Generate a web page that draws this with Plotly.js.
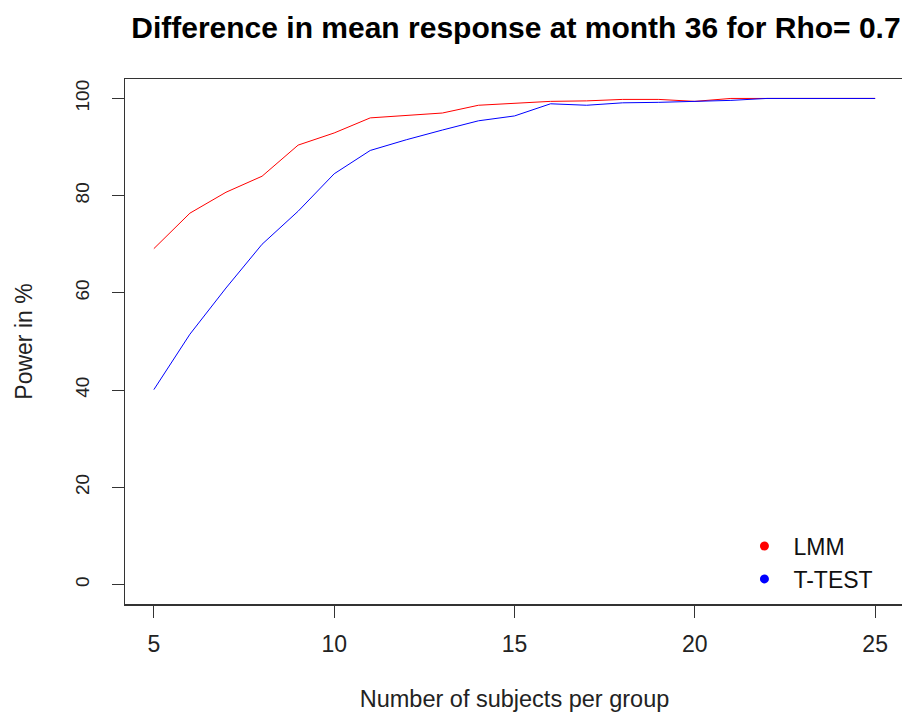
<!DOCTYPE html>
<html>
<head>
<meta charset="utf-8">
<script src="https://cdn.plot.ly/plotly-3.0.1.min.js"></script>
<style>html,body{margin:0;padding:0;overflow:hidden;background:#fff;}#chart{width:906px;height:712px;}</style>
</head>
<body>
<div id="chart"></div>
<script>
const subjects = [5,6,7,8,9,10,11,12,13,14,15,16,17,18,19,20,21,22,23,24,25];
const lmmPower = [69.1,76.4,80.7,84.0,90.4,92.9,96.0,96.5,97.0,98.6,99.0,99.4,99.5,99.8,99.8,99.4,100,100,100,100,100];
const ttestPower = [40.1,51.5,61.0,70.0,76.8,84.5,89.3,91.5,93.5,95.4,96.4,98.9,98.6,99.1,99.2,99.4,99.6,100,100,100,100];
const xTicks = [5,10,15,20,25];
const yTicks = [0,20,40,60,80,100];
const seriesNames = ["LMM","T-TEST"];

const FONT = '"Liberation Sans", Arial, sans-serif';
const traces = [
  {x: subjects, y: lmmPower, mode: 'lines', line: {color: 'red', width: 1}, showlegend: false, hoverinfo: 'skip'},
  {x: subjects, y: ttestPower, mode: 'lines', line: {color: 'blue', width: 1}, showlegend: false, hoverinfo: 'skip'},
  {x: [null], y: [null], mode: 'markers', name: seriesNames[0], marker: {color: 'red', size: 9}},
  {x: [null], y: [null], mode: 'markers', name: seriesNames[1], marker: {color: 'blue', size: 9}}
];
const axisCommon = {
  showgrid: false, zeroline: false, showline: true, mirror: true,
  linecolor: '#333', linewidth: 1.5,
  ticks: 'outside', ticklen: 12, tickwidth: 1, tickcolor: '#333',
  automargin: true
};
const layout = {
  width: 906, height: 712,
  margin: {l: 125, r: 0, t: 79, b: 108},
  paper_bgcolor: '#fff', plot_bgcolor: '#fff',
  title: {text: 'Difference in mean response at month 36 for Rho= 0.7', font: {family: FONT, size: 30, weight: 'bold', color: '#000'}, x: 0.5695, xanchor: 'center', y: 0.962, yanchor: 'middle'},
  xaxis: Object.assign({}, axisCommon, {
    range: [4.2, 25.8], tickvals: xTicks, ticktext: xTicks.map(String), ticklabelstandoff: 7,
    tickfont: {family: FONT, size: 23, color: '#222'},
    title: {text: 'Number of subjects per group', font: {family: FONT, size: 23.5, color: '#222'}, standoff: 34}
  }),
  yaxis: Object.assign({}, axisCommon, {
    range: [-4, 104], tickvals: yTicks, ticktext: yTicks.map(String), tickangle: -90, ticklabelstandoff: 15,
    tickfont: {family: FONT, size: 19, color: '#222'},
    title: {text: 'Power in %', font: {family: FONT, size: 23, color: '#222'}, standoff: 33}
  }),
  legend: {x: 0.7836, y: 0.079, xanchor: 'left', yanchor: 'middle', bgcolor: 'rgba(0,0,0,0)', font: {family: FONT, size: 23, color: '#111'}, itemwidth: 48}
};
Plotly.newPlot('chart', traces, layout, {displayModeBar: false, staticPlot: true});
</script>
</body>
</html>
